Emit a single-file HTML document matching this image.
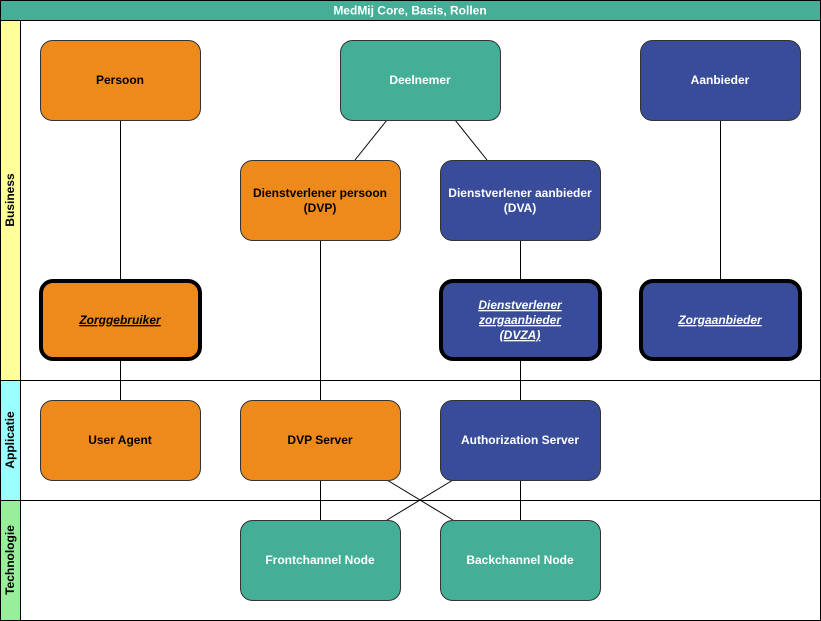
<!DOCTYPE html>
<html><head><meta charset="utf-8"><style>
html,body{margin:0;padding:0;background:#fff;}
svg{display:block;}
text{font-family:"Liberation Sans",Arial,sans-serif;font-size:12px;font-weight:bold;}
</style></head><body>
<svg width="821" height="621" viewBox="0 0 821 621" xmlns="http://www.w3.org/2000/svg">
<rect x="0.5" y="0.5" width="820" height="620" fill="#fff" stroke="#000"/>
<rect x="0.5" y="0.5" width="820" height="20" fill="#44ae96" stroke="#000"/>
<text x="410" y="14.5" text-anchor="middle" fill="#fff">MedMij Core, Basis, Rollen</text>
<rect x="0.5" y="20.5" width="20" height="360" fill="#ffff99" stroke="#000"/>
<rect x="0.5" y="380.5" width="20" height="120" fill="#99ffff" stroke="#000"/>
<rect x="0.5" y="500.5" width="20" height="120" fill="#99ee99" stroke="#000"/>
<line x1="20" y1="380.5" x2="821" y2="380.5" stroke="#000"/>
<line x1="20" y1="500.5" x2="821" y2="500.5" stroke="#000"/>
<text transform="translate(14,200) rotate(-90)" text-anchor="middle">Business</text>
<text transform="translate(14,440) rotate(-90)" text-anchor="middle">Applicatie</text>
<text transform="translate(14,560) rotate(-90)" text-anchor="middle">Technologie</text>
<g stroke="#000" stroke-width="1">
<line x1="120.5" y1="120" x2="120.5" y2="400"/>
<line x1="387" y1="120" x2="355" y2="160"/>
<line x1="455" y1="120" x2="487" y2="160"/>
<line x1="320.5" y1="240" x2="320.5" y2="520"/>
<line x1="520.5" y1="240" x2="520.5" y2="520"/>
<line x1="720.5" y1="120" x2="720.5" y2="280"/>
<line x1="387" y1="480" x2="453" y2="520"/>
<line x1="453" y1="480" x2="387" y2="520"/>
</g>
<g stroke="#333" stroke-width="1">
<rect x="40.5" y="40.5" width="160" height="80" rx="12" fill="#ee8a1c"/>
<rect x="340.5" y="40.5" width="160" height="80" rx="12" fill="#44ae96"/>
<rect x="640.5" y="40.5" width="160" height="80" rx="12" fill="#384c9a"/>
<rect x="240.5" y="160.5" width="160" height="80" rx="12" fill="#ee8a1c"/>
<rect x="440.5" y="160.5" width="160" height="80" rx="12" fill="#384c9a"/>
<rect x="40.5" y="400.5" width="160" height="80" rx="12" fill="#ee8a1c"/>
<rect x="240.5" y="400.5" width="160" height="80" rx="12" fill="#ee8a1c"/>
<rect x="440.5" y="400.5" width="160" height="80" rx="12" fill="#384c9a"/>
<rect x="240.5" y="520.5" width="160" height="80" rx="12" fill="#44ae96"/>
<rect x="440.5" y="520.5" width="160" height="80" rx="12" fill="#44ae96"/>
</g>
<g stroke="#000" stroke-width="4">
<rect x="41" y="281" width="159" height="78" rx="12" fill="#ee8a1c"/>
<rect x="441" y="281" width="159" height="78" rx="12" fill="#384c9a"/>
<rect x="641" y="281" width="159" height="78" rx="12" fill="#384c9a"/>
</g>
<text x="120" y="84" text-anchor="middle">Persoon</text>
<text x="420" y="84" text-anchor="middle" fill="#fff">Deelnemer</text>
<text x="720" y="84" text-anchor="middle" fill="#fff">Aanbieder</text>
<text x="320" y="197" text-anchor="middle">Dienstverlener persoon</text>
<text x="320" y="212" text-anchor="middle">(DVP)</text>
<text x="520" y="197" text-anchor="middle" fill="#fff">Dienstverlener aanbieder</text>
<text x="520" y="212" text-anchor="middle" fill="#fff">(DVA)</text>
<g font-style="italic" text-decoration="underline">
<text x="120" y="324" text-anchor="middle" font-style="italic" text-decoration="underline">Zorggebruiker</text>
<text x="520" y="309" text-anchor="middle" fill="#fff" font-style="italic" text-decoration="underline">Dienstverlener</text>
<text x="520" y="324" text-anchor="middle" fill="#fff" font-style="italic" text-decoration="underline">zorgaanbieder</text>
<text x="520" y="339" text-anchor="middle" fill="#fff" font-style="italic" text-decoration="underline">(DVZA)</text>
<text x="720" y="324" text-anchor="middle" fill="#fff" font-style="italic" text-decoration="underline">Zorgaanbieder</text>
</g>
<text x="120" y="444" text-anchor="middle">User Agent</text>
<text x="320" y="444" text-anchor="middle">DVP Server</text>
<text x="520" y="444" text-anchor="middle" fill="#fff">Authorization Server</text>
<text x="320" y="564" text-anchor="middle" fill="#fff">Frontchannel Node</text>
<text x="520" y="564" text-anchor="middle" fill="#fff">Backchannel Node</text>
</svg>
</body></html>
